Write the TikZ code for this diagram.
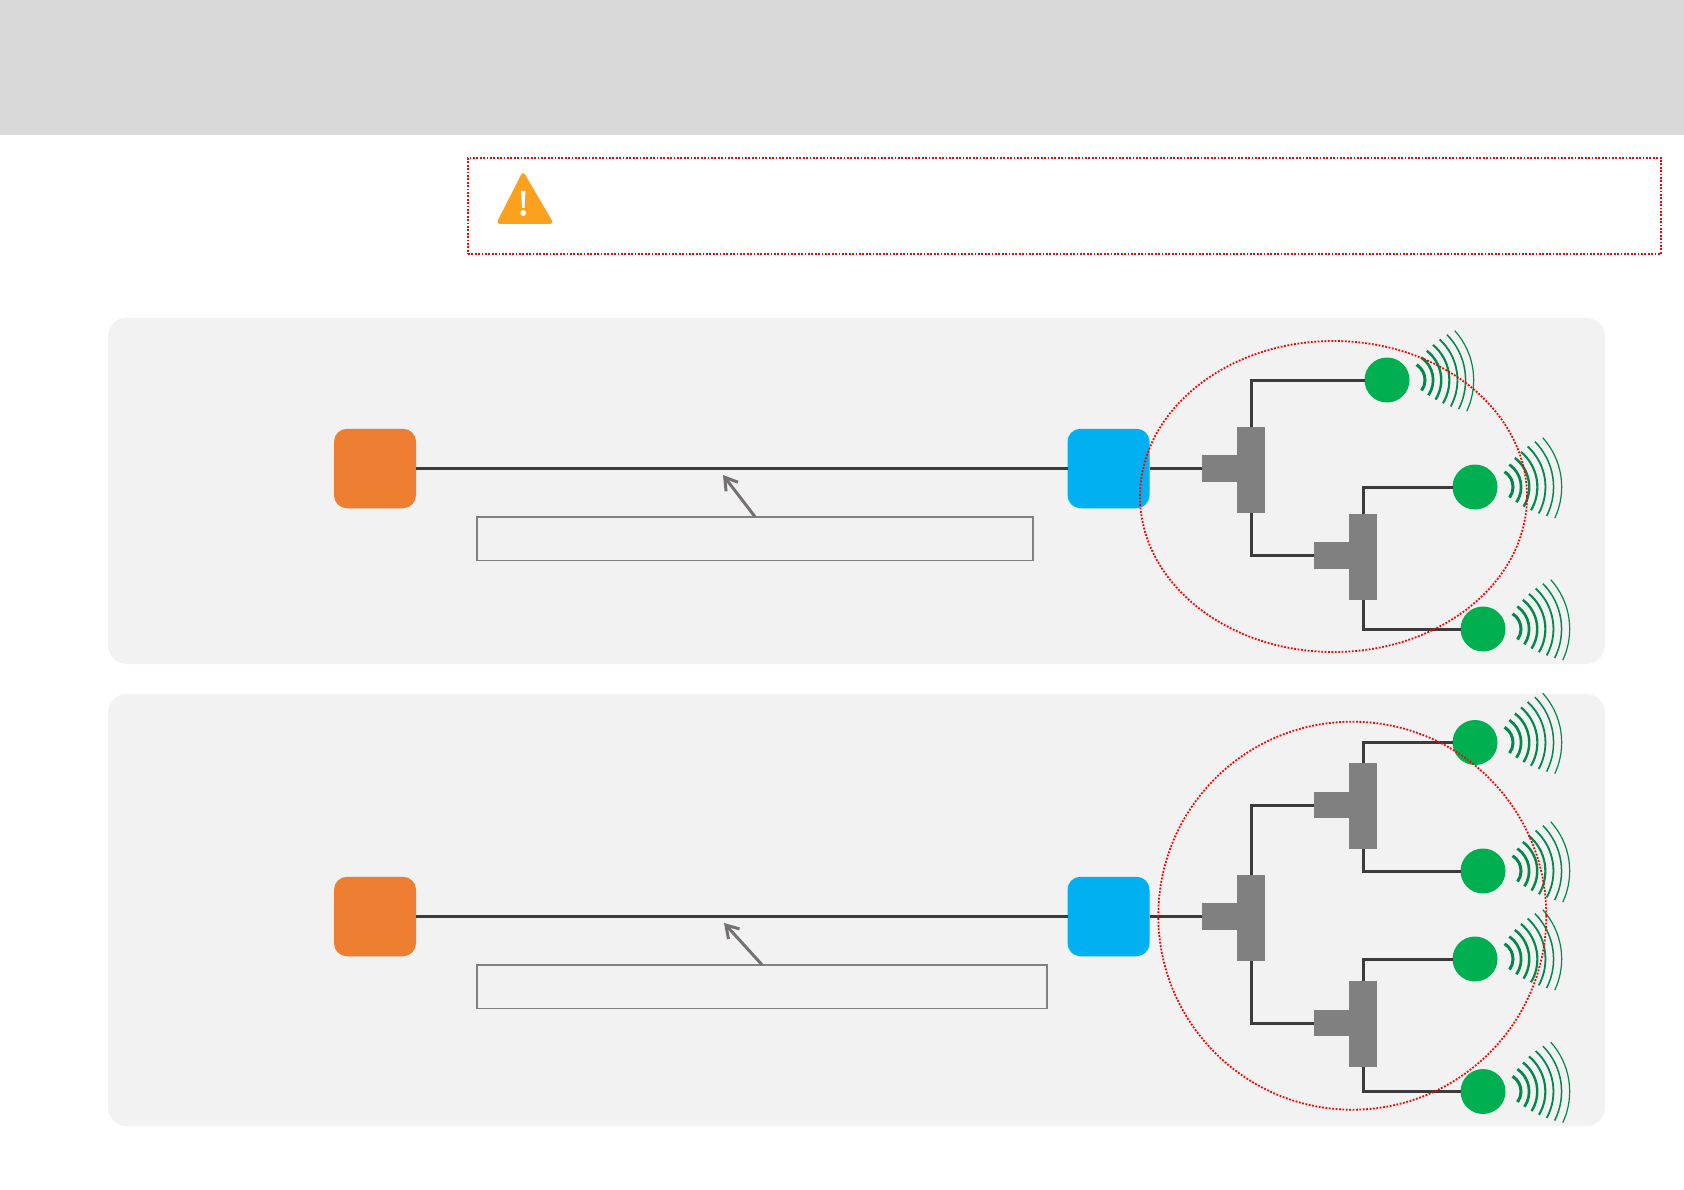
\documentclass[tikz,border=0pt]{standalone}
\usetikzlibrary{arrows.meta,shapes.geometric}
\definecolor{bandgray}{HTML}{D9D9D9}
\definecolor{panelgray}{HTML}{F2F2F2}
\definecolor{teegray}{HTML}{808080}
\definecolor{wiredark}{HTML}{3B3B3B}
\definecolor{pointergray}{HTML}{767171}
\definecolor{sourceorange}{HTML}{ED7D31}
\definecolor{unitblue}{HTML}{00B0F0}
\definecolor{leafgreen}{HTML}{00B050}
\definecolor{wavegreen}{HTML}{00894B}
\definecolor{warnorange}{HTML}{FBA11E}
\begin{document}
\begin{tikzpicture}[x=1pt, y=-1pt,
  flat/.style={inner sep=0pt, outer sep=0pt, anchor=center},
  panel/.style={flat, fill=panelgray, rounded corners=19pt, minimum width=1497pt},
  endbox/.style={flat, rounded corners=13pt, minimum width=82pt, minimum height=79.5pt},
  labelbox/.style={flat, draw=teegray, line width=1.5pt, fill=panelgray, minimum height=43.5pt},
  teebar/.style={flat, fill=teegray, minimum width=28pt, minimum height=86pt},
  teestub/.style={flat, fill=teegray, minimum width=36pt, minimum height=26.5pt},
  leaf/.style={flat, circle, fill=leafgreen, minimum size=45pt},
  wire/.style={draw=wiredark, line width=3pt},
  pointer/.style={draw=pointergray, line width=3pt, -{Straight Barb[length=12pt,width=15pt]}},
  redzone/.style={draw=red, line width=1.8pt, dash pattern=on 1.8pt off 1.6pt},
  wavefan/.pic={\foreach \i in {0,...,6} {
      \pgfmathsetmacro\wr{18+9.28*\i}
      \pgfmathsetmacro\wo{20-7*\i/6}
      \pgfmathsetmacro\wa{58-16*\i/6}
      \pgfmathsetmacro\wb{-36+11*\i/6}
      \pgfmathsetmacro\ww{3-0.3*\i}
      \draw[wavegreen, line width=\ww pt] (\wo pt,0pt) ++(\wa:\wr pt) arc[start angle=\wa, end angle=\wb, radius=\wr pt];
    }}]
\useasboundingbox (0,0) rectangle (1684,1190);
% top band and warning
\node[flat, fill=bandgray, minimum width=1684pt, minimum height=135pt] (band) at (842,67.5) {};
\node[flat, redzone, minimum width=1193pt, minimum height=96pt] (warnbox) at (1064.5,206) {};
\fill[warnorange, rounded corners=4pt] (523,171) -- (554,224) -- (496,224) -- cycle;
\fill[white] (521,191) -- (525.5,191) -- (524.5,208) -- (522,208) -- cycle;
\fill[white] (523.2,213) circle (3pt);
% panels
\node[panel, minimum height=346.5pt] (panelA) at (856.5,490.8) {};
\node[panel, minimum height=432.5pt] (panelB) at (856.5,910) {};
% end boxes
\node[endbox, fill=sourceorange] (sourceA) at (375,468.5) {};
\node[endbox, fill=unitblue] (unitA) at (1108.5,468.5) {};
\node[endbox, fill=sourceorange] (sourceB) at (375,916.5) {};
\node[endbox, fill=unitblue] (unitB) at (1108.5,916.5) {};
% label boxes
\node[labelbox, minimum width=556pt] (labelA) at (755,538.5) {};
\node[labelbox, minimum width=570pt] (labelB) at (762,986.5) {};
\coordinate (tipA) at (723,475);
\coordinate (tipB) at (724,923);
% tees
\foreach \n/\x/\y in {A1/1251/470, A2/1363/557, B1/1251/918, B2/1363/806, B3/1363/1024}
  \node[teebar] (bar\n) at (\x,\y) {};
\foreach \n/\x/\y in {A1/1219.5/468.5, A2/1331.5/555.5, B1/1219.5/916.5, B2/1331.5/805, B3/1331.5/1023}
  \node[teestub] (stub\n) at (\x,\y) {};
% leaves
\foreach \n/\x/\y in {A1/1387/380, A2/1475/487, A3/1483/629, B1/1475/742.5, B2/1483/871, B3/1475/959, B4/1483/1091.5} {
  \node[leaf] (leaf\n) at (\x,\y) {};
  \pic at (leaf\n) {wavefan};
}
% connectors
\draw[wire] (sourceA) -- (unitA);
\draw[wire] (unitA) -- (stubA1);
\draw[wire] (barA1.north) |- (leafA1.west);
\draw[wire] (barA1.south) |- (stubA2.west);
\draw[wire] (barA2.north) |- (leafA2.west);
\draw[wire] (barA2.south) |- (leafA3.west);
\draw[wire] (sourceB) -- (unitB);
\draw[wire] (unitB) -- (stubB1);
\draw[wire] (barB1.north) |- (stubB2.west);
\draw[wire] (barB1.south) |- (stubB3.west);
\draw[wire] (barB2.north) |- (leafB1.west);
\draw[wire] (barB2.south) |- (leafB2.west);
\draw[wire] (barB3.north) |- (leafB3.west);
\draw[wire] (barB3.south) |- (leafB4.west);
\draw[pointer] (labelA.north) -- (tipA);
\draw[pointer] (labelB.north) -- (tipB);
% red zones
\node[flat, redzone, ellipse, minimum width=387pt, minimum height=311pt] (zoneA) at (1333.5,496.5) {};
\node[flat, redzone, circle, minimum size=388pt] (zoneB) at (1352.3,915.7) {};
\end{tikzpicture}
\end{document}
